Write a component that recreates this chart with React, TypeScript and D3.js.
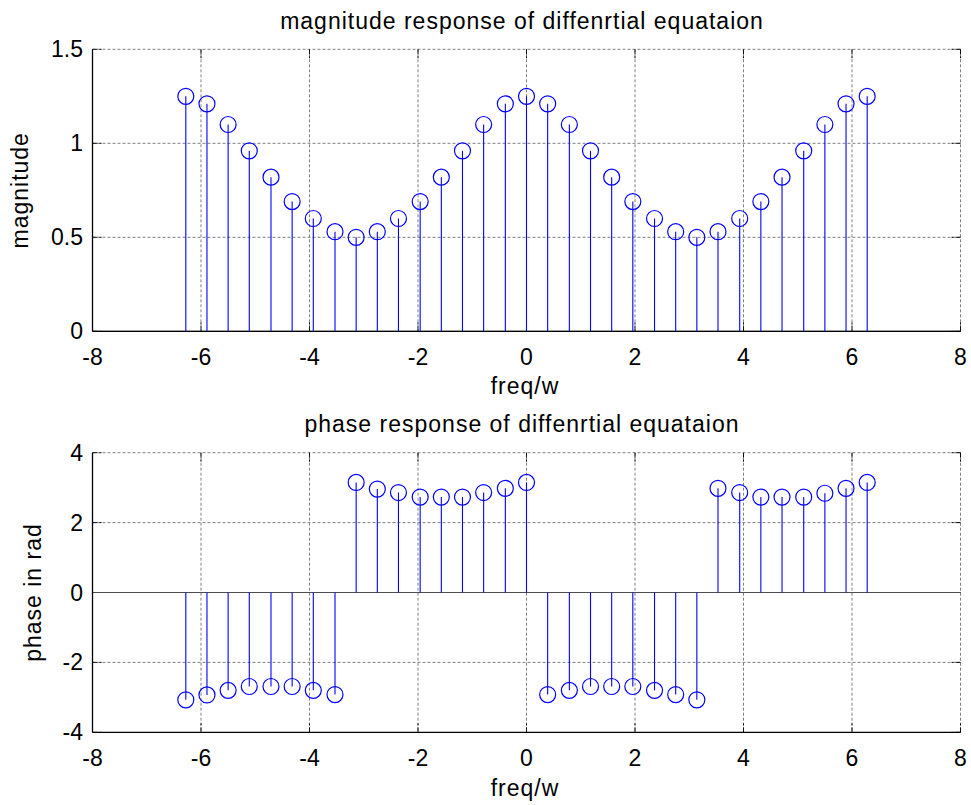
import React from "react";
import * as d3 from "d3";

const freq = [-6.28, -5.89, -5.50, -5.11, -4.71, -4.32, -3.93, -3.53, -3.14, -2.75, -2.36, -1.96, -1.57, -1.18, -0.79, -0.39, 0, 0.39, 0.79, 1.18, 1.57, 1.96, 2.36, 2.75, 3.14, 3.53, 3.93, 4.32, 4.71, 5.11, 5.50, 5.89, 6.28];
const magnitude = [1.25, 1.21, 1.10, 0.96, 0.82, 0.69, 0.60, 0.53, 0.50, 0.53, 0.60, 0.69, 0.82, 0.96, 1.10, 1.21, 1.25, 1.21, 1.10, 0.96, 0.82, 0.69, 0.60, 0.53, 0.50, 0.53, 0.60, 0.69, 0.82, 0.96, 1.10, 1.21, 1.25];
const phase = [-3.07, -2.93, -2.80, -2.69, -2.69, -2.69, -2.80, -2.92, 3.15, 2.96, 2.86, 2.73, 2.73, 2.73, 2.86, 2.98, 3.15, -2.92, -2.80, -2.69, -2.69, -2.69, -2.80, -2.92, -3.07, 2.98, 2.86, 2.73, 2.73, 2.73, 2.84, 2.98, 3.15];

const xTicks = [-8, -6, -4, -2, 0, 2, 4, 6, 8];
const xTickLabels = ["-8", "-6", "-4", "-2", "0", "2", "4", "6", "8"];
const magTicks = [0, 0.5, 1, 1.5];
const magTickLabels = ["0", "0.5", "1", "1.5"];
const phaseTicks = [-4, -2, 0, 2, 4];
const phaseTickLabels = ["-4", "-2", "0", "2", "4"];

const FONT = "'Liberation Sans', Arial, Helvetica, sans-serif";
const BLUE = "#0000ff";

type PanelProps = {
  top: number;
  bottom: number;
  yDomain: [number, number];
  yTicks: number[];
  yTickLabels: string[];
  values: number[];
  title: string;
  titleY: number;
  ylabel: string;
  ylabelX: number;
  xTickLabelY: number;
  xLabelY: number;
};

const Panel = (p: PanelProps) => {
  const left = 92.5;
  const right = 960.5;
  const x = d3.scaleLinear().domain([-8, 8]).range([left, right]);
  const y = d3.scaleLinear().domain(p.yDomain).range([p.bottom, p.top]);
  const base = y(0);
  const tickLen = 9;
  return (
    <g>
      {xTicks.slice(1).map((t) => (
        <line key={"gx" + t} x1={x(t)} x2={x(t)} y1={p.top} y2={p.bottom} stroke="#808080" strokeDasharray="3,2" strokeWidth={1} />
      ))}
      {p.yTicks.slice(1).map((t) => (
        <line key={"gy" + t} x1={left} x2={right} y1={y(t)} y2={y(t)} stroke="#808080" strokeDasharray="3,2" strokeWidth={1} />
      ))}
      {xTicks.map((t) => (
        <g key={"tx" + t}>
          <line x1={x(t)} x2={x(t)} y1={p.bottom} y2={p.bottom - tickLen} stroke="#111" strokeWidth={1} strokeDasharray="5,2,2" />
          <line x1={x(t)} x2={x(t)} y1={p.top} y2={p.top + tickLen} stroke="#111" strokeWidth={1} strokeDasharray="5,2,2" />
        </g>
      ))}
      {p.yTicks.map((t) => (
        <g key={"ty" + t}>
          <line x1={left} x2={left + tickLen} y1={y(t)} y2={y(t)} stroke="#111" strokeWidth={1} strokeDasharray="5,2,2" />
          <line x1={right} x2={right - tickLen} y1={y(t)} y2={y(t)} stroke="#111" strokeWidth={1} strokeDasharray="5,2,2" />
        </g>
      ))}
      <line x1={left} x2={right} y1={base} y2={base} stroke="#4d4d4d" strokeWidth={1.2} />
      <line x1={left} x2={left} y1={p.top} y2={p.bottom} stroke="#000" strokeWidth={1.3} />
      <line x1={left} x2={right} y1={p.bottom} y2={p.bottom} stroke="#000" strokeWidth={1.3} />
      {freq.map((f, i) => (
        <line key={"s" + i} x1={x(f)} x2={x(f)} y1={base} y2={y(p.values[i])} stroke={BLUE} strokeWidth={1.1} />
      ))}
      {freq.map((f, i) => (
        <circle key={"c" + i} cx={x(f)} cy={y(p.values[i])} r={8} fill="none" stroke={BLUE} strokeWidth={1.2} />
      ))}
      {xTicks.map((t, i) => (
        <text key={"lx" + t} x={x(t)} y={p.xTickLabelY} textAnchor="middle" fontSize={23} fontFamily={FONT} fill="#000">
          {xTickLabels[i]}
        </text>
      ))}
      {p.yTicks.map((t, i) => (
        <text key={"ly" + t} x={83} y={y(t) + 8} textAnchor="end" fontSize={23} fontFamily={FONT} fill="#000">
          {p.yTickLabels[i]}
        </text>
      ))}
      <text x={522} y={p.titleY} textAnchor="middle" fontSize={23} letterSpacing={1} fontFamily={FONT} fill="#000">
        {p.title}
      </text>
      <text x={525} y={p.xLabelY} textAnchor="middle" fontSize={23} letterSpacing={1} fontFamily={FONT} fill="#000">
        freq/w
      </text>
      <text
        transform={`translate(${p.ylabelX},${(p.top + p.bottom) / 2}) rotate(-90)`}
        textAnchor="middle"
        fontSize={23}
        letterSpacing={1}
        fontFamily={FONT}
        fill="#000"
      >
        {p.ylabel}
      </text>
    </g>
  );
};

export default function App() {
  return (
    <svg width={971} height={805} style={{ position: "absolute", left: 0, top: 0, background: "#fff" }}>
      <rect width={971} height={805} fill="#fff" />
      <Panel
        top={49.3}
        bottom={331.3}
        yDomain={[0, 1.5]}
        yTicks={magTicks}
        yTickLabels={magTickLabels}
        values={magnitude}
        title="magnitude response of diffenrtial equataion"
        titleY={29}
        ylabel="magnitude"
        ylabelX={28}
        xTickLabelY={365}
        xLabelY={394}
      />
      <Panel
        top={452.7}
        bottom={732.3}
        yDomain={[-4, 4]}
        yTicks={phaseTicks}
        yTickLabels={phaseTickLabels}
        values={phase}
        title="phase response of diffenrtial equataion"
        titleY={432}
        ylabel="phase in rad"
        ylabelX={41}
        xTickLabelY={766}
        xLabelY={796}
      />
    </svg>
  );
}
